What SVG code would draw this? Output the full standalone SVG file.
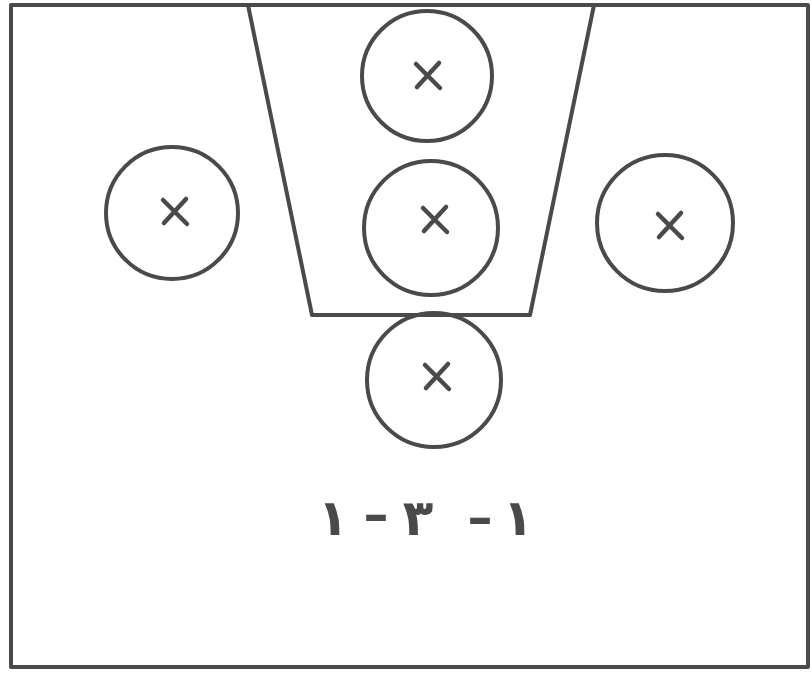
<svg xmlns="http://www.w3.org/2000/svg" width="811" height="674" viewBox="0 0 811 674">
<style>
.ln{fill:none;stroke:#4a4a4a;stroke-width:4;stroke-linecap:round;stroke-linejoin:round}
.x{fill:none;stroke:#4a4a4a;stroke-width:4.5;stroke-linecap:round}
.t{font-family:"DejaVu Sans",sans-serif;font-size:50px;font-weight:bold;fill:#4a4a4a;text-anchor:middle}
</style>
<defs>
<g id="mark"><path class="x" d="M-12,-12 L12,12 M11,-13 L-11,11"/></g>
</defs>
<rect width="811" height="674" fill="#ffffff"/>
<g id="court">
<rect class="ln" x="11" y="5" width="797" height="662"/>
<polyline class="ln" points="248,5 312,315 530,315 594,5"/>
</g>
<g id="p1"><circle class="ln" cx="427" cy="76" r="65"/><use href="#mark" x="428" y="76"/></g>
<g id="p2"><circle class="ln" cx="431" cy="228" r="67"/><use href="#mark" x="435" y="220"/></g>
<g id="p3"><circle class="ln" cx="434" cy="380" r="67"/><use href="#mark" x="437" y="377"/></g>
<g id="p4"><circle class="ln" cx="172" cy="213" r="66"/><use href="#mark" x="175" y="212"/></g>
<g id="p5"><circle class="ln" cx="665" cy="223" r="68"/><use href="#mark" x="670" y="226"/></g>
<g id="label">
<text class="t" x="333" y="535">١</text>
<text class="t" x="376" y="532">–</text>
<text class="t" x="418" y="535">٣</text>
<text class="t" x="480" y="535">–</text>
<text class="t" x="518" y="535">١</text>
</g>
</svg>
